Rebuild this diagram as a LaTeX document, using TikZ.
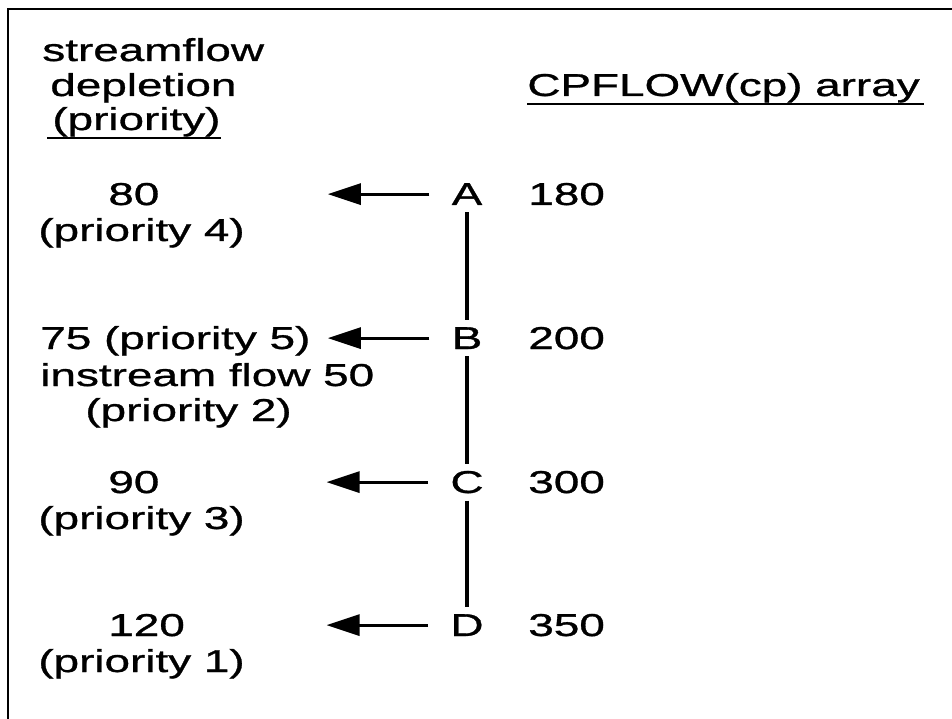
\documentclass[tikz,border=0pt]{standalone}
\usepackage{fontspec}
\newfontfamily\figfont{Liberation Sans}[FakeStretch=1.45, FakeBold=1]
\usetikzlibrary{arrows.meta}
\usetikzlibrary{positioning}
\usetikzlibrary{calc}

\begin{document}
\begin{tikzpicture}[x=0.02cm, y=-0.02cm,
        txt/.style = {font=\figfont\fontsize{18}{21}\selectfont, inner sep=0pt},
        cp/.style = {font=\figfont\fontsize{18}{21}\selectfont, inner sep=4pt},
        link/.style = {black, line width=2.1pt},
        depl/.style = {black, line width=1.8pt, shorten <=0.3cm,
            -{Triangle[length=0.66cm, width=0.42cm, sep=0.13cm]}}]
            \useasboundingbox (0,0) rectangle (952,719);
            \draw[black, line width=1.6pt] (8,719) -- (8,9) -- (952,9);

            % column headings
            \node[txt, anchor=base west] (hdstream) at (42,61) {streamflow};
            \node[txt, anchor=base west] (hddepl) at (50,96) {depletion};
            \node[txt, anchor=base west] (hdprio) at (52,130) {(priority)};
            \node[txt, anchor=base west] (hdarray) at (527,96) {CPFLOW(cp) array};
            \draw[black, line width=1.2pt] ($(hdprio.base west)+(-5,8)$) -- ($(hdprio.base east)+(0,8)$);
            \draw[black, line width=1.2pt] ($(hdarray.base west)+(0,8)$) -- ($(hdarray.base east)+(4,8)$);

            % control points and CPFLOW values
            \node[cp, anchor=base] (A) at (467,205) {A};
            \node[cp, anchor=base] (B) at (467,349) {B};
            \node[cp, anchor=base] (C) at (467,493) {C};
            \node[cp, anchor=base] (D) at (467,636) {D};
            \node[txt, anchor=base west] (flowA) at (528,205) {180};
            \node[txt, anchor=base west] (flowB) at (528,349) {200};
            \node[txt, anchor=base west] (flowC) at (528,493) {300};
            \node[txt, anchor=base west] (flowD) at (528,636) {350};

            \draw[link] (A) -- (B);
            \draw[link] (B) -- (C);
            \draw[link] (C) -- (D);

            % depletions
            \node[txt, anchor=base west] (deplA) at (108,205) {80};
            \node[txt, anchor=base west] (prioA) at (38,241) {(priority 4)};
            \node[txt, anchor=base west] (deplB) at (40,349) {75 (priority 5)};
            \node[txt, anchor=base west] (isfB) at (40,386) {instream flow 50};
            \node[txt, anchor=base west] (prioB) at (85,421) {(priority 2)};
            \node[txt, anchor=base west] (deplC) at (108,493) {90};
            \node[txt, anchor=base west] (prioC) at (38,529) {(priority 3)};
            \node[txt, anchor=base west] (deplD) at (108,636) {120};
            \node[txt, anchor=base west] (prioD) at (38,672) {(priority 1)};

            \coordinate[left=2.46cm of A] (endA);
            \coordinate[left=2.46cm of B] (endB);
            \coordinate[left=2.46cm of C] (endC);
            \coordinate[left=2.46cm of D] (endD);
            \draw[depl] (A) -- (endA);
            \draw[depl] (B) -- (endB);
            \draw[depl] (C) -- (endC);
            \draw[depl] (D) -- (endD);
        \end{tikzpicture}
\end{document}
